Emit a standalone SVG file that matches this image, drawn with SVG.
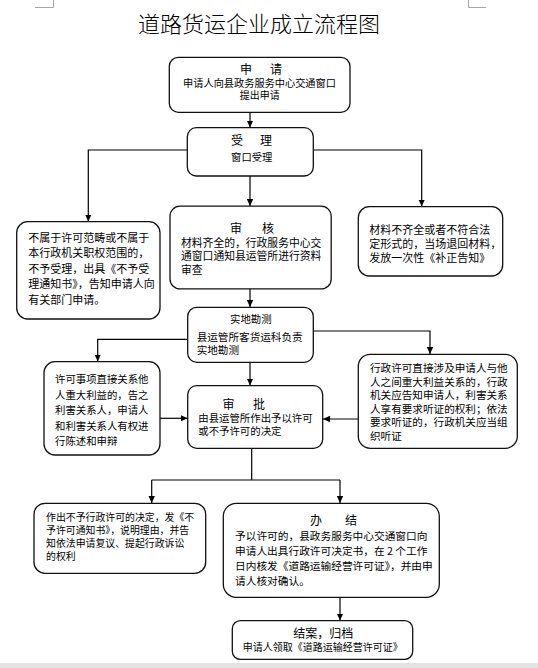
<svg xmlns="http://www.w3.org/2000/svg" width="538" height="668" viewBox="0 0 538 668">
<defs>
<marker id="ah" markerUnits="userSpaceOnUse" markerWidth="8" markerHeight="8" refX="7" refY="4" orient="auto">
<path d="M0,0.8 L7,4 L0,7.2 z" fill="#000"/>
</marker>
<style>
.box{fill:#fff;stroke:#111;stroke-width:1.3}
.ln{fill:none;stroke:#000;stroke-width:1.2}
.ar{fill:none;stroke:#000;stroke-width:1.2;marker-end:url(#ah)}
text{font-family:"Noto Sans CJK SC","Noto Sans",sans-serif;fill:#000}
.t{font-size:12px}
.crop{fill:none;stroke:#a6a6a6;stroke-width:1}
</style>
</defs>
<rect x="0" y="0" width="538" height="668" fill="#fff"/>
<path class="crop" d="M35,7.5 H53.5 V0"/>
<path class="crop" d="M486,7.5 H468.5 V0"/>
<text x="259" y="31.5" font-size="22" font-weight="300" text-anchor="middle">道路货运企业成立流程图</text>

<g id="connectors">
<line class="ar" x1="250" y1="112.5" x2="250" y2="127.5"/>
<polyline class="ar" points="187.3,150 88.3,150 88.3,221.5"/>
<polyline class="ar" points="313.3,150 421.7,150 421.7,206.5"/>
<line class="ar" x1="250" y1="176" x2="250" y2="206"/>
<line class="ar" x1="250" y1="289" x2="250" y2="307"/>
<polyline class="ar" points="187.7,339.3 97.7,339.3 97.7,361.5"/>
<polyline class="ar" points="313.3,331 430,331 430,354"/>
<line class="ar" x1="250" y1="362.3" x2="250" y2="385.5"/>
<line class="ar" x1="160" y1="418.3" x2="187.5" y2="418.3"/>
<line class="ar" x1="358.3" y1="419" x2="323" y2="419"/>
<line class="ln" x1="251.7" y1="448.3" x2="251.7" y2="480"/>
<line class="ln" x1="151.7" y1="480" x2="340" y2="480"/>
<line class="ar" x1="151.7" y1="480" x2="151.7" y2="503"/>
<line class="ar" x1="340" y1="480" x2="340" y2="503"/>
<line class="ar" x1="340" y1="597.3" x2="340" y2="620.5"/>
</g>

<g id="n-apply">
<rect class="box" x="169.3" y="57.3" width="180.7" height="55" rx="9"/>
<text class="t" x="240" y="74.3">申<tspan x="270">请</tspan></text>
<text x="259.5" y="86.6" font-size="10.2" text-anchor="middle">申请人向县政务服务中心交通窗口</text>
<text x="259.7" y="98.6" font-size="10" text-anchor="middle">提出申请</text>
</g>

<g id="n-accept">
<rect class="box" x="187.3" y="127.7" width="126" height="48.3" rx="9"/>
<text class="t" x="231" y="145.3">受<tspan x="260">理</tspan></text>
<text x="251.7" y="161.2" font-size="10.3" text-anchor="middle">窗口受理</text>
</g>

<g id="n-reject">
<rect class="box" x="16.7" y="221.7" width="143.3" height="97.3" rx="11"/>
<text font-size="11" x="28.3" y="241.5">不属于许可范畴或不属于</text>
<text font-size="11" x="28.3" y="257">本行政机关职权范围的，</text>
<text font-size="11" x="28.3" y="272.5">不予受理，出具《不予受</text>
<text font-size="11" x="28.3" y="288">理通知书》，告知申请人向</text>
<text font-size="11" x="28.3" y="303.5">有关部门申请。</text>
</g>

<g id="n-review">
<rect class="box" x="170" y="206.2" width="161.2" height="82.7" rx="10"/>
<text class="t" x="230" y="232.6">审<tspan x="262">核</tspan></text>
<text font-size="10.8" x="181" y="246.6">材料齐全的，行政服务中心交</text>
<text font-size="10.8" x="181" y="260.4">通窗口通知县运管所进行资料</text>
<text font-size="10.8" x="181" y="274.1">审查</text>
</g>

<g id="n-supplement">
<rect class="box" x="358.3" y="206.7" width="144.4" height="69.3" rx="11"/>
<text font-size="11" x="369.3" y="234.2">材料不齐全或者不符合法</text>
<text font-size="11" x="369.3" y="247.7">定形式的，当场退回材料，</text>
<text font-size="11" x="369.3" y="261.7">发放一次性《补正告知》</text>
</g>

<g id="n-survey">
<rect class="box" x="187.7" y="307.3" width="125.6" height="55" rx="9"/>
<text x="250.8" y="323.3" font-size="10.4" text-anchor="middle">实地勘测</text>
<text font-size="10.6" x="196.7" y="341.2">县运管所客货运科负责</text>
<text font-size="10.6" x="196.7" y="353.6">实地勘测</text>
</g>

<g id="n-interest">
<rect class="box" x="44" y="361.7" width="116" height="93.3" rx="11"/>
<text font-size="10.4" x="55" y="383.3">许可事项直接关系他</text>
<text font-size="10.4" x="55" y="398.6">人重大利益的，告之</text>
<text font-size="10.4" x="55" y="414">利害关系人，申请人</text>
<text font-size="10.4" x="55" y="429.6">和利害关系人有权进</text>
<text font-size="10.4" x="55" y="445.2">行陈述和申辩</text>
</g>

<g id="n-approve">
<rect class="box" x="187.7" y="385.7" width="135" height="62.6" rx="9"/>
<text class="t" x="222.5" y="408.6">审<tspan x="253">批</tspan></text>
<text font-size="10.4" x="198.3" y="422.3">由县运管所作出予以许可</text>
<text font-size="10.4" x="198.3" y="434.9">或不予许可的决定</text>
</g>

<g id="n-hearing">
<rect class="box" x="358.3" y="354.3" width="159" height="94" rx="12"/>
<text font-size="10.6" x="370" y="372.3">行政许可直接涉及申请人与他</text>
<text font-size="10.6" x="370" y="385.8">人之间重大利益关系的，行政</text>
<text font-size="10.6" x="370" y="399.3">机关应告知申请人，利害关系</text>
<text font-size="10.6" x="370" y="412.8">人享有要求听证的权利；依法</text>
<text font-size="10.6" x="370" y="426.3">要求听证的，行政机关应当组</text>
<text font-size="10.6" x="370" y="439.8">织听证</text>
</g>

<g id="n-deny">
<rect class="box" x="34" y="503.3" width="171.7" height="70" rx="11"/>
<text font-size="9.9" x="46" y="521.1">作出不予行政许可的决定，发《不</text>
<text font-size="9.9" x="46" y="534.1">予许可通知书》，说明理由，并告</text>
<text font-size="9.9" x="46" y="547.1">知依法申请复议、提起行政诉讼</text>
<text font-size="9.9" x="46" y="560.1">的权利</text>
</g>

<g id="n-finish">
<rect class="box" x="223.3" y="503.3" width="216" height="94" rx="13"/>
<text class="t" x="310" y="525.3">办<tspan x="345">结</tspan></text>
<text font-size="10.7" x="235" y="540.1">予以许可的，县政务服务中心交通窗口向</text>
<text font-size="10.7" x="235" y="555">申请人出具行政许可决定书，在 2 个工作</text>
<text font-size="10.7" x="235" y="569.9">日内核发《道路运输经营许可证》，并由申</text>
<text font-size="10.7" x="235" y="584.8">请人核对确认。</text>
</g>

<g id="n-archive">
<rect class="box" x="232.3" y="620.7" width="180.4" height="38.6" rx="8"/>
<text x="323.3" y="638.2" font-size="12" text-anchor="middle">结案，归档</text>
<text x="322.7" y="651" font-size="10" text-anchor="middle">申请人领取《道路运输经营许可证》</text>
</g>

<rect x="0" y="663" width="538" height="5" fill="#e3e3e3"/>
</svg>
